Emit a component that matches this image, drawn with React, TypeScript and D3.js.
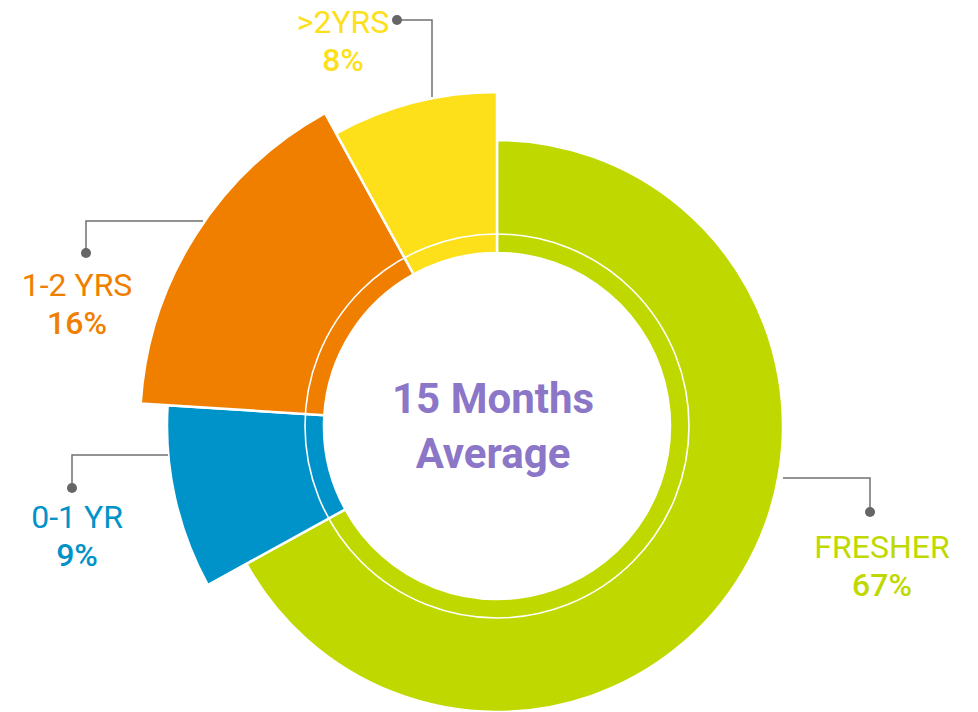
import * as d3 from 'd3';

// experience buckets, clockwise from 12 o'clock
const labels = ['FRESHER', '0-1 YR', '1-2 YRS', '>2YRS'];
const shares = [67, 9, 16, 8];
const colors = ['#bfd900', '#0093c9', '#f07f00', '#fde01a'];
const centerLines = ['15 Months', 'Average'];

const W = 978;
const H = 712;
const cx = 497;
const cy = 426;
const innerR = 173;
const ringR = 192;
// each wedge sticks out by a different amount
const outerR = [286, 330, 357, 334];

// label placement (text centre x, first baseline) and leader path
const labelPos = [
  { x: 882, y: 558, path: [[783, 478], [870, 478], [870, 512]] },
  { x: 77, y: 528, path: [[168, 455], [72, 455], [72, 488]] },
  { x: 77, y: 296, path: [[203, 221], [86, 221], [86, 253]] },
  { x: 343, y: 33, path: [[432, 97], [432, 20], [397, 20]] },
];

export default function App() {
  const pie = d3.pie<number>().sort(null).value(d => d);
  const arcs = pie(shares);
  const arc = d3.arc<d3.PieArcDatum<number>>();

  return (
    <svg width={W} height={H} style={{ position: 'absolute', left: 0, top: 0, fontFamily: 'Roboto, sans-serif' }}>
      <g transform={`translate(${cx},${cy})`}>
        {arcs.map((a, i) => (
          <path
            key={labels[i]}
            d={arc({ ...a, innerRadius: innerR, outerRadius: outerR[i] } as any) || ''}
            fill={colors[i]}
            stroke="#fff"
            strokeWidth={2.5}
          />
        ))}
        <circle r={ringR} fill="none" stroke="#fff" strokeWidth={1.6} />
        {centerLines.map((t, i) => (
          <text key={t} x={-4} y={-13 + i * 55} textAnchor="middle" fill="#8b76c8"
            fontSize={42} fontWeight={700}>{t}</text>
        ))}
      </g>
      {labelPos.map((p, i) => {
        const line = d3.line()(p.path as [number, number][]) || '';
        const dot = p.path[p.path.length - 1];
        return (
          <g key={labels[i]}>
            <path d={line} fill="none" stroke="#707070" strokeWidth={1.5} />
            <circle cx={dot[0]} cy={dot[1]} r={5} fill="#666" />
            <text x={p.x} y={p.y} textAnchor="middle" fill={colors[i]} fontSize={32}>{labels[i]}</text>
            <text x={p.x} y={p.y + 38} textAnchor="middle" fill={colors[i]} fontSize={32} fontWeight={500}>{shares[i]}%</text>
          </g>
        );
      })}
    </svg>
  );
}
